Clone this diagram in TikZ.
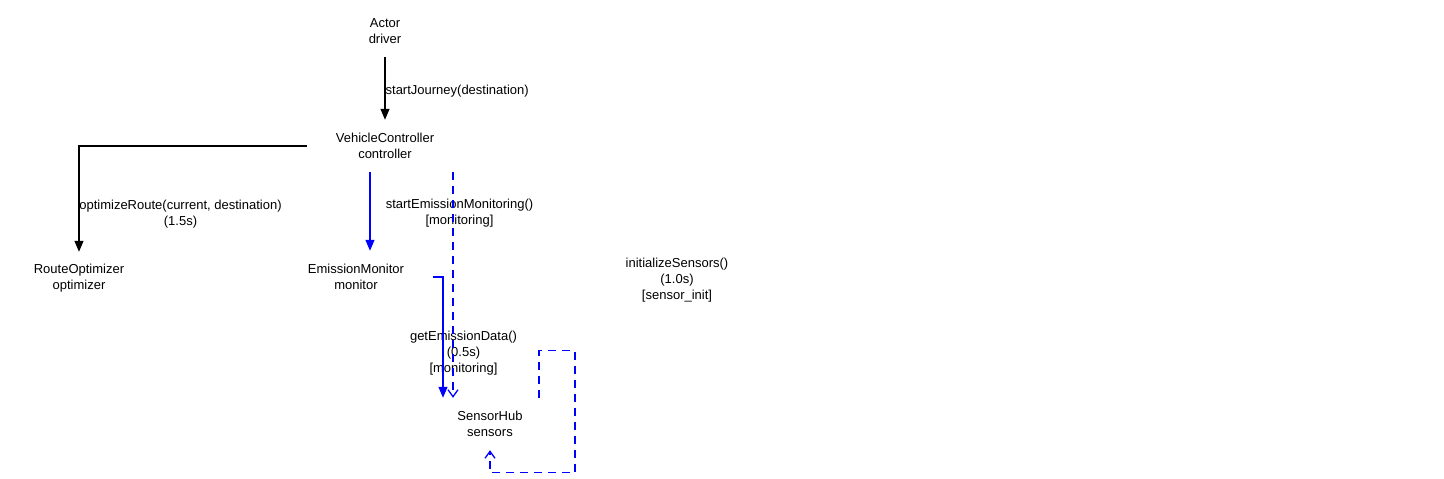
\documentclass[tikz,border=0pt]{standalone}
\usepackage{fontspec}
\setmainfont{Liberation Sans}
\usetikzlibrary{arrows.meta}

\begin{document}
\begin{tikzpicture}[x=1pt, y=-1pt]
    % Define styles
    \tikzstyle{obj} = [rectangle, minimum height=52pt, inner xsep=29pt, inner ysep=0pt, align=center, font=\fontsize{13}{16}\selectfont]
    \tikzstyle{lbl} = [inner sep=0pt, align=center, font=\fontsize{13}{16}\selectfont]
    \tikzstyle{call} = [line width=1.3pt, -{Triangle[length=11pt, width=9pt]}]
    \tikzstyle{async} = [line width=1.3pt, blue, dash pattern=on 8pt off 6pt, -{Straight Barb[length=7pt, width=10pt]}]
    \useasboundingbox (0,0) rectangle (1444,479);

    % Nodes
    \node (driver) [obj] at (385,31) {Actor\\driver};
    \node (controller) [obj] at (385,146) {VehicleController\\controller};
    \node (optimizer) [obj] at (79,278) {RouteOptimizer\\optimizer};
    \node (monitor) [obj] at (356,277) {EmissionMonitor\\monitor};
    \node (sensors) [obj] at (490,424) {SensorHub\\sensors};

    % Labels
    \node (routelbl) [lbl] at (180.5,214) {optimizeRoute(current, destination)\\(1.5s)};
    \node (startlbl) [lbl] at (459.5,213.5) {startEmissionMonitoring()\\{[monitoring]}};
    \node (datalbl) [lbl] at (463.5,353) {getEmissionData()\\(0.5s)\\{[monitoring]}};
    \node (initlbl) [lbl] at (677,280.5) {initializeSensors()\\(1.0s)\\{[sensor\_init]}};

    % Arrows
    \draw [call] (driver) -- node[lbl, right, yshift=-2.5pt] {startJourney(destination)} (controller);
    \draw [call] (controller.west) -| (optimizer.north);
    \draw [call, blue] ([xshift=-15pt]controller.south) -- ([xshift=14pt]monitor.north);
    \draw [async] ([xshift=68pt]controller.south) -- ([xshift=-37pt]sensors.north);
    \draw [call, blue] (monitor.east) -| ([xshift=-47pt]sensors.north);
    \draw [async] ([xshift=49pt]sensors.north) -- ++(0,-47) -- ++(36,0) -- ++(0,122) -| (sensors.south);
\end{tikzpicture}
\end{document}
